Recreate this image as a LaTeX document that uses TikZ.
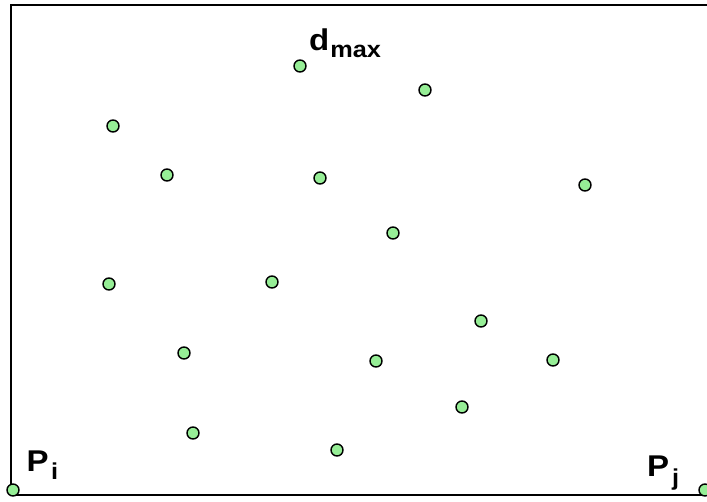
\documentclass[tikz,border=0pt]{standalone}
\usepackage{fontspec}
\setmainfont{Liberation Sans}
\newfontfamily\lblfont[FakeStretch=1.1]{Liberation Sans}
\usepackage{tikz}
\usetikzlibrary{positioning}
\definecolor{ptgreen}{RGB}{150,238,150}
\tikzset{
  pt/.style={circle, draw=black, fill=ptgreen, line width=1.4pt, minimum size=12pt, inner sep=0pt},
  lbl/.style={inner sep=0pt, anchor=base west, font=\lblfont\bfseries\fontsize{30}{34}\selectfont},
  frameline/.style={line width=2pt},
}
% subscript: text, gap, drop
\newcommand{\sub}[3]{\hspace{#2}\raisebox{-#3}{\fontsize{23}{26}\selectfont #1}}

\begin{document}
\begin{tikzpicture}[x=1pt, y=-1pt]
\useasboundingbox (0,0) rectangle (707,501);
\clip (0,0) rectangle (707,501);
% frame (right edge lies outside the picture)
\coordinate (tl) at (11,5);
\coordinate (bl) at (11,495);
\coordinate (tr) at (707,5);
\coordinate (br) at (707,495);
\draw[frameline] (tr) -- (tl) -- (bl) -- (br);

% points
\node[pt] (pmax) at (300,66) {};
\node[pt] (p1) at (425,90) {};
\node[pt] (p2) at (113,126) {};
\node[pt] (p3) at (167,175) {};
\node[pt] (p4) at (320,178) {};
\node[pt] (p5) at (585,185) {};
\node[pt] (p6) at (393,233) {};
\node[pt] (p7) at (109,284) {};
\node[pt] (p8) at (272,282) {};
\node[pt] (p9) at (481,321) {};
\node[pt] (p10) at (184,353) {};
\node[pt] (p11) at (376,361) {};
\node[pt] (p12) at (553,360) {};
\node[pt] (p13) at (462,407) {};
\node[pt] (p14) at (193,433) {};
\node[pt] (p15) at (337,450) {};
\node[pt] (pi) at (13,490) {};
\node[pt] (pj) at (705,490) {};

% labels
\node[lbl] (dmaxlbl) at (309,50) {d\sub{max}{1pt}{7pt}};
\node[lbl] (pilbl) at (26.5,471) {P\sub{i}{2.5pt}{8pt}};
\node[lbl] (pjlbl) at (647,476) {P\sub{j}{3pt}{9pt}};
\end{tikzpicture}
\end{document}
